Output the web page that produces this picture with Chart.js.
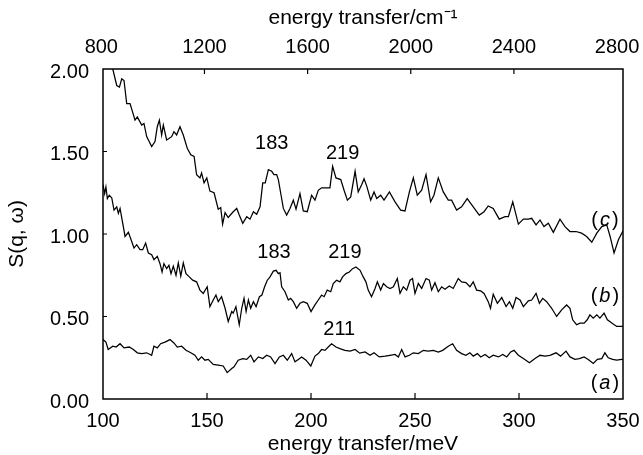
<!DOCTYPE html>
<html><head><meta charset="utf-8">
<script src="https://cdn.jsdelivr.net/npm/chart.js@4"></script>
<style>html,body{margin:0;padding:0;background:#fff}canvas{display:block}</style>
</head><body>
<canvas id="chart" width="643" height="455"></canvas>
<script>
// ---- data ----
const energyC = [100,102.5,104.7,106.6,107.9,109.0,110.1,111.4,113.0,115.4,116.5,118.6,119.7,121.0,123.4,125.0,126.1,127.1,128.2,129.0,130.6,133.0,134.1,135.4,137.0,138.6,140.5,142.2,143.8,145.0,146.6,147.4,148.6,149.9,151.4,153.4,155.4,156.6,157.5,158.7,160.2,162.6,164.3,165.5,167.2,169.1,170.7,172.3,173.9,175.5,176.8,178.0,179.5,181.1,182.2,183.5,184.3,185.4,186.7,188.3,189.9,191.5,192.8,194.7,196.3,198.2,200.3,201.9,203.5,205.1,209.1,210.4,212.0,214.3,215.9,217.5,219.1,221.2,222.7,224.4,225.5,226.8,228.7,230.3,231.6,233.5,235.1,237.7,240.4,243.1,245.2,247.3,249.2,251.1,253.2,255.3,257.5,259.1,261.2,263.6,266.0,267.6,270.0,272.4,275.1,278.0,280.9,283.2,285.2,287.6,290.5,293.3,294.9,297.0,299.7,302.1,304.5,306.1,308.2,310.1,312.0,314.1,316.5,319.7,322.1,324.5,327.4,330.1,332.5,335.0,337.4,339.8,342.2,343.8,345.7,347.8,349.4,350];
const valuesC = [2.25,2.12,2.00,1.90,1.89,1.94,1.93,1.79,1.79,1.69,1.71,1.66,1.67,1.59,1.53,1.56,1.65,1.69,1.60,1.66,1.57,1.59,1.62,1.60,1.65,1.60,1.52,1.48,1.47,1.36,1.34,1.37,1.31,1.34,1.26,1.25,1.15,1.16,1.06,1.13,1.10,1.135,1.155,1.115,1.065,1.105,1.09,1.135,1.12,1.165,1.31,1.31,1.39,1.38,1.36,1.36,1.33,1.25,1.155,1.115,1.155,1.205,1.15,1.245,1.14,1.135,1.235,1.205,1.265,1.28,1.28,1.41,1.34,1.33,1.265,1.205,1.225,1.38,1.255,1.30,1.335,1.29,1.205,1.255,1.215,1.235,1.205,1.255,1.195,1.145,1.14,1.255,1.34,1.235,1.265,1.36,1.195,1.235,1.34,1.255,1.205,1.205,1.145,1.165,1.215,1.165,1.115,1.135,1.17,1.155,1.09,1.105,1.105,1.195,1.06,1.09,1.09,1.095,1.055,1.085,1.045,1.065,1.01,1.09,1.045,1.015,1.015,1.005,0.985,0.95,1.005,1.045,1.055,0.985,0.885,0.965,1.005,1.02];

const energyB = [100.0,100.8,101.4,102.1,103.0,104.2,105.3,106.6,107.4,108.2,109.5,110.6,112.2,113.8,114.9,116.2,117.8,119.1,120.5,121.8,123.4,124.5,126.1,127.4,128.4,129.3,130.6,131.7,132.7,133.8,135.1,136.2,137.4,138.6,139.9,141.5,143.1,145.0,146.6,148.2,150.1,151.4,153.0,154.3,155.4,157.0,158.7,160.2,161.9,162.6,163.9,165.5,166.7,167.8,168.8,169.9,171.0,172.3,173.6,175.2,176.4,177.7,179.0,180.3,181.9,183.2,184.3,185.1,185.9,187.5,189.1,190.2,191.5,193.1,194.7,196.3,198.2,200.0,201.9,203.5,205.1,206.3,207.8,209.5,210.7,212.3,213.9,215.2,216.8,218.4,220.0,221.6,223.6,225.1,226.4,227.5,229.1,230.8,231.9,233.5,234.8,236.4,238.0,239.6,241.5,242.8,244.4,246.0,247.6,248.8,250.0,251.6,253.2,255.3,256.9,258.0,259.6,261.2,262.8,264.4,266.5,268.4,270.8,272.4,274.5,276.4,278.0,279.6,281.6,283.2,285.2,286.3,287.6,289.6,291.7,293.8,295.4,297.0,298.6,300.5,302.1,304.5,306.1,308.2,309.8,311.4,313.3,315.7,318.1,320.5,322.9,324.5,325.8,327.7,329.3,331.3,332.8,334.1,335.7,337.4,338.9,340.9,342.5,344.6,347.0,349.4,350];
const valuesB = [1.30,1.245,1.285,1.215,1.235,1.22,1.145,1.165,1.125,1.155,1.065,0.985,1.01,0.955,0.915,0.935,0.905,0.905,0.945,0.885,0.875,0.845,0.865,0.82,0.77,0.82,0.79,0.81,0.76,0.805,0.75,0.825,0.745,0.825,0.76,0.74,0.72,0.71,0.66,0.64,0.68,0.56,0.60,0.63,0.59,0.62,0.55,0.47,0.53,0.52,0.56,0.45,0.55,0.61,0.53,0.60,0.55,0.59,0.56,0.62,0.63,0.68,0.72,0.74,0.775,0.78,0.76,0.765,0.68,0.65,0.60,0.61,0.59,0.55,0.58,0.59,0.58,0.53,0.57,0.60,0.63,0.62,0.66,0.65,0.70,0.72,0.71,0.74,0.76,0.77,0.79,0.80,0.78,0.74,0.71,0.66,0.62,0.67,0.71,0.66,0.70,0.68,0.67,0.68,0.73,0.64,0.68,0.66,0.72,0.73,0.64,0.70,0.67,0.73,0.72,0.66,0.705,0.65,0.68,0.665,0.685,0.67,0.73,0.71,0.705,0.68,0.71,0.66,0.655,0.64,0.59,0.55,0.635,0.58,0.615,0.56,0.59,0.55,0.615,0.60,0.56,0.595,0.60,0.64,0.58,0.61,0.59,0.55,0.50,0.54,0.57,0.55,0.48,0.45,0.46,0.46,0.48,0.51,0.49,0.51,0.49,0.52,0.48,0.46,0.44,0.44,0.44];

const energyA = [100,101.4,102.5,104.7,106.3,108.2,110.1,112.6,114.6,116.5,118.6,121.0,123.4,124.5,126.1,127.7,129.8,132.2,134.1,135.7,137.8,139.9,142.2,144.2,145.8,147.4,149.0,150.6,153.0,155.4,157.8,159.7,161.9,163.0,165.0,167.2,169.1,171.0,172.6,174.7,176.8,178.7,180.6,182.7,184.8,186.7,188.6,190.7,192.3,193.9,195.5,197.6,199.9,201.9,203.5,205.1,206.7,208.3,209.9,212.0,213.9,216.3,218.8,221.2,223.4,226.0,228.4,230.3,232.8,235.6,238.0,240.4,242.0,243.6,245.2,247.3,249.2,251.6,254.0,256.4,258.8,261.2,263.3,266.0,268.1,270.0,272.4,274.5,276.4,278.0,280.0,281.6,283.7,285.7,287.6,290.1,292.2,294.1,296.0,297.6,299.7,302.1,305.0,307.7,310.1,312.5,314.9,317.8,320.0,322.6,324.5,326.9,329.0,331.3,333.3,335.7,337.7,339.8,341.3,342.9,345.0,347.0,349.4,350];
const valuesA = [0.36,0.345,0.30,0.32,0.315,0.335,0.31,0.315,0.30,0.28,0.275,0.28,0.265,0.32,0.31,0.335,0.345,0.36,0.34,0.315,0.32,0.295,0.28,0.265,0.235,0.255,0.235,0.24,0.21,0.205,0.20,0.16,0.185,0.195,0.235,0.245,0.24,0.265,0.225,0.255,0.245,0.265,0.255,0.215,0.255,0.265,0.235,0.275,0.225,0.24,0.255,0.235,0.20,0.26,0.275,0.30,0.295,0.315,0.335,0.315,0.305,0.295,0.29,0.30,0.278,0.285,0.265,0.28,0.255,0.26,0.265,0.27,0.255,0.30,0.255,0.265,0.28,0.275,0.295,0.29,0.295,0.285,0.295,0.32,0.335,0.295,0.275,0.265,0.28,0.26,0.275,0.255,0.27,0.25,0.265,0.255,0.27,0.255,0.285,0.295,0.265,0.245,0.22,0.245,0.265,0.26,0.265,0.28,0.26,0.29,0.255,0.24,0.245,0.255,0.24,0.215,0.24,0.245,0.28,0.25,0.24,0.235,0.24,0.24];

const bottomTicks = [100,150,200,250,300,350];          // meV
const topTicks = [800,1200,1600,2000,2400,2800];        // cm^-1
const yTicks = [0,0.5,1.0,1.5,2.0];
const MEV_TO_CM = 8.06554;

const peakLabels = ['183','219','183','219','211'];
const peakE = [181.1,215.2,182.2,216.3,213.6];
const peakS = [1.55,1.49,0.885,0.886,0.424];
const curveLetters = ['c','b','a'];
const letterE = [341.3,341.3,341.3];
const letterS = [1.08,0.62,0.097];

// ---- chart ----
const FONT = '"Liberation Sans", Arial, Helvetica, sans-serif';
const pts = (xs, ys) => xs.map((v, i) => ({x: v, y: ys[i]}));
const line = (xs, ys) => ({data: pts(xs, ys), showLine: true, borderColor: '#000', borderWidth: 1.25,
  pointRadius: 0, pointHoverRadius: 0, fill: false, tension: 0, xAxisID: 'x', yAxisID: 'y'});

const decor = {
  id: 'decor',
  afterDraw(chart) {
    const {ctx, chartArea: a, scales: {x, x2, y}} = chart;
    ctx.save();
    ctx.strokeStyle = '#000';
    ctx.lineWidth = 1.5;
    ctx.strokeRect(a.left, a.top, a.right - a.left, a.bottom - a.top);
    ctx.lineWidth = 1.2;
    ctx.beginPath();
    bottomTicks.slice(1, -1).forEach(v => { const p = x.getPixelForValue(v); ctx.moveTo(p, a.bottom); ctx.lineTo(p, a.bottom - 6); });
    topTicks.slice(1, -1).forEach(v => { const p = x2.getPixelForValue(v); ctx.moveTo(p, a.top); ctx.lineTo(p, a.top + 5); });
    yTicks.slice(1, -1).forEach(v => { const p = y.getPixelForValue(v); ctx.moveTo(a.left, p); ctx.lineTo(a.left + 4, p); });
    ctx.stroke();
    ctx.fillStyle = '#000';
    ctx.textBaseline = 'middle';
    ctx.textAlign = 'center';
    ctx.font = '20px ' + FONT;
    peakLabels.forEach((t, i) => ctx.fillText(t, x.getPixelForValue(peakE[i]), y.getPixelForValue(peakS[i])));
    const up = '20px ' + FONT, it = 'italic 20px ' + FONT;
    curveLetters.forEach((l, i) => {
      const cx = x.getPixelForValue(letterE[i]), cy = y.getPixelForValue(letterS[i]);
      ctx.font = up; const wp = ctx.measureText('(').width;
      ctx.font = it; const wl = ctx.measureText(l).width;
      const gap = 2, total = wp * 2 + wl + gap * 2;
      let sx = cx - total / 2;
      ctx.textAlign = 'left';
      ctx.font = up; ctx.fillText('(', sx, cy); sx += wp + gap;
      ctx.font = it; ctx.fillText(l, sx, cy); sx += wl + gap;
      ctx.font = up; ctx.fillText(')', sx, cy);
    });
    ctx.restore();
  }
};

const noSidePad = s => { s.paddingLeft = 0; s.paddingRight = 0; };

new Chart(document.getElementById('chart'), {
  type: 'scatter',
  data: {datasets: [line(energyC, valuesC), line(energyB, valuesB), line(energyA, valuesA)]},
  options: {
    responsive: false,
    animation: false,
    devicePixelRatio: 1,
    layout: {padding: {left: 0, right: 20, top: 0, bottom: 0}},
    plugins: {legend: {display: false}, tooltip: {enabled: false}},
    scales: {
      x: {
        type: 'linear', position: 'bottom', min: 100, max: 350,
        afterBuildTicks: s => { s.ticks = bottomTicks.map(v => ({value: v})); },
        afterFit: s => { s.height = 56; noSidePad(s); },
        grid: {display: false, drawTicks: false}, border: {display: false},
        ticks: {autoSkip: false, maxRotation: 0, padding: 10, color: '#000', font: {family: FONT, size: 20},
          callback: v => String(v)},
        title: {display: true, text: 'energy transfer/meV', color: '#000', font: {family: FONT, size: 21},
          padding: {top: 0, bottom: -2}}
      },
      x2: {
        type: 'linear', position: 'top', min: 100 * MEV_TO_CM, max: 350 * MEV_TO_CM,
        afterBuildTicks: s => { s.ticks = topTicks.map(v => ({value: v})); },
        afterFit: s => { s.height = 69; noSidePad(s); },
        grid: {display: false, drawTicks: false}, border: {display: false},
        ticks: {autoSkip: false, maxRotation: 0, padding: 10, color: '#000', font: {family: FONT, size: 20},
          callback: v => String(v)},
        title: {display: true, text: 'energy transfer/cm\u207B\u00B9', color: '#000', font: {family: FONT, size: 21},
          padding: {top: 6, bottom: 0}}
      },
      y: {
        type: 'linear', position: 'left', min: 0, max: 2,
        afterBuildTicks: s => { s.ticks = yTicks.map(v => ({value: v})); },
        afterFit: s => { s.width = 103; s.paddingTop = 0; s.paddingBottom = 0; },
        grid: {display: false, drawTicks: false}, border: {display: false},
        ticks: {autoSkip: false, padding: 14, labelOffset: 3, color: '#000', font: {family: FONT, size: 20},
          callback: v => Number(v).toFixed(2)},
        title: {display: true, text: 'S(q, \u03C9)', color: '#000', font: {family: FONT, size: 21},
          padding: {top: 5, bottom: 0}}
      }
    }
  },
  plugins: [decor]
});
</script>
</body></html>
